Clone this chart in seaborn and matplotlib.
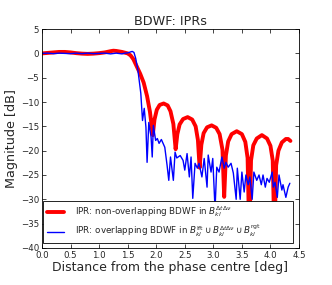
import matplotlib
matplotlib.use("Agg")
import matplotlib.pyplot as plt
import seaborn as sns
import pandas as pd

# IPR of the non-overlapping BDWF (red, thick)
red_x = [0.0, 0.1, 0.2, 0.3, 0.4, 0.5, 0.6, 0.7, 0.8, 0.9, 1.0, 1.1, 1.2, 1.25, 1.3, 1.4, 1.5,
         1.55, 1.6, 1.66, 1.72, 1.78, 1.84, 1.89, 1.94,
         1.97, 2.01, 2.06, 2.13, 2.20, 2.25, 2.30, 2.34,
         2.37, 2.41, 2.47, 2.55, 2.63, 2.69, 2.73, 2.76,
         2.79, 2.83, 2.89, 2.97, 3.05, 3.11, 3.16, 3.19,
         3.22, 3.26, 3.32, 3.41, 3.50, 3.56, 3.60, 3.63,
         3.66, 3.70, 3.76, 3.85, 3.94, 4.00, 4.04, 4.07,
         4.10, 4.14, 4.20, 4.27, 4.31, 4.35]
red_db = [0.0, 0.1, 0.2, 0.3, 0.3, 0.2, 0.05, -0.05, -0.1, -0.05, 0.05, 0.2, 0.45, 0.55, 0.5, 0.3, 0.0,
          -0.4, -1.2, -2.7, -4.2, -6.0, -8.8, -12.0, -16.8,
          -13.6, -11.6, -10.6, -10.3, -10.7, -11.9, -14.5, -19.7,
          -16.6, -14.6, -13.5, -13.1, -13.6, -15.0, -17.8, -23.5,
          -18.8, -16.4, -15.2, -14.8, -15.3, -16.6, -19.8, -29.5,
          -21.0, -18.1, -16.6, -16.0, -16.6, -18.2, -21.5, -38.0,
          -22.0, -18.9, -17.5, -16.8, -17.5, -19.0, -22.0, -38.0,
          -23.0, -20.0, -18.3, -17.6, -17.6, -18.0]

# IPR of the overlapping BDWF (blue, thin)
blue_x = [0.0, 0.1, 0.2, 0.3, 0.4, 0.5, 0.6, 0.7, 0.8, 0.9, 1.0, 1.1, 1.2, 1.3, 1.4,
          1.45, 1.5, 1.55, 1.58, 1.61, 1.64, 1.68, 1.73, 1.76, 1.79, 1.82, 1.84, 1.87,
          1.91, 1.93, 1.95, 1.99, 2.02, 2.05, 2.09, 2.15, 2.19, 2.22, 2.25, 2.30, 2.33,
          2.36, 2.42, 2.47, 2.50, 2.54, 2.58, 2.61, 2.64, 2.68, 2.72, 2.75, 2.80, 2.84,
          2.89, 2.91, 2.96, 2.99, 3.03, 3.06, 3.10, 3.15, 3.19, 3.22, 3.26, 3.31, 3.35,
          3.40, 3.42, 3.47, 3.50, 3.54, 3.57, 3.61, 3.64, 3.68, 3.71, 3.76, 3.80, 3.84,
          3.87, 3.91, 3.94, 3.98, 4.03, 4.05, 4.08, 4.12, 4.15, 4.20, 4.22, 4.27, 4.31, 4.34]
blue_db = [0.0, 0.05, -0.05, 0.05, 0.0, -0.05, 0.05, -0.05, 0.05, -0.05, 0.0, 0.05, -0.1, 0.05, -0.1,
           0.05, 0.1, 0.3, 0.4, 0.2, -1.0, -3.5, -8.2, -13.8, -11.3, -15.2, -22.4, -14.2,
           -17.2, -21.3, -14.8, -17.9, -17.5, -18.5, -17.7, -19.3, -23.0, -26.1, -21.3, -26.1, -20.3,
           -21.5, -21.0, -22.0, -24.0, -20.6, -25.4, -21.3, -29.8, -22.6, -23.6, -22.6, -25.4, -21.6,
           -27.5, -20.9, -24.4, -21.6, -32.0, -23.4, -24.4, -21.3, -23.6, -22.4, -23.4, -22.6, -24.6,
           -30.0, -23.6, -30.0, -24.4, -28.5, -25.0, -27.0, -25.4, -30.0, -24.4, -26.1, -25.0, -27.0,
           -25.0, -27.5, -25.7, -26.5, -24.4, -27.5, -26.5, -29.6, -25.0, -28.1, -27.0, -29.6, -27.5, -26.7]

red_label = r"IPR: non-overlapping BDWF in $B_{kl}^{\Delta t\Delta\nu}$"
blue_label = (r"IPR: overlapping BDWF in $B_{kl}^{\rm lft}\cup B_{kl}^{\Delta t\Delta\nu}"
              r"\cup B_{kl}^{\rm rgt}$")

sns.set_style("ticks", {"xtick.direction": "in", "ytick.direction": "in",
                        "axes.edgecolor": "black"})
plt.rcParams["font.family"] = ["DejaVu Sans"]

red = pd.DataFrame({"x": red_x, "db": red_db})
blue = pd.DataFrame({"x": blue_x, "db": blue_db})

fig, ax = plt.subplots(figsize=(3.32, 2.85), dpi=100)
fig.subplots_adjust(left=0.1265, right=0.9006, top=0.898, bottom=0.130)

sns.lineplot(data=red, x="x", y="db", ax=ax, color="#ff0000", linewidth=2.8,
             label=red_label, sort=False)
sns.lineplot(data=blue, x="x", y="db", ax=ax, color="#0000ff", linewidth=1.0,
             label=blue_label, sort=False)

ax.set_xlim(0, 4.5)
ax.set_ylim(-40, 5)
ax.set_xticks([0.0, 0.5, 1.0, 1.5, 2.0, 2.5, 3.0, 3.5, 4.0, 4.5])
ax.set_yticks(range(-40, 6, 5))
ax.tick_params(top=True, right=True, labelsize=6.2, length=3, width=0.6, pad=2)
for s in ax.spines.values():
    s.set_linewidth(0.6)

ax.set_title("BDWF: IPRs", fontsize=9.2, pad=3)
ax.set_xlabel("Distance from the phase centre [deg]", fontsize=9, labelpad=1)
ax.set_ylabel("Magnitude [dB]", fontsize=9.2, labelpad=2)

leg = ax.legend(loc="lower left", bbox_to_anchor=(0.004, 0.023, 0.973, 0.18), mode="expand",
                fontsize=6.3, frameon=True, fancybox=False, framealpha=1,
                edgecolor="black", borderpad=0.4, labelspacing=0.45, handlelength=2.0,
                handletextpad=1.2, borderaxespad=0)
leg.get_frame().set_linewidth(0.6)

fig.savefig("out.png", dpi=100)
